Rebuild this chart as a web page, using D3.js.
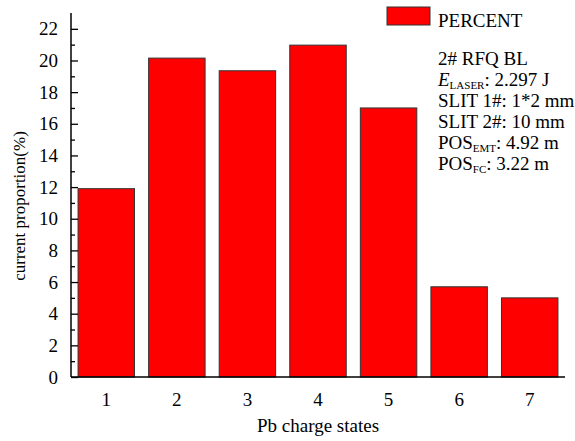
<!DOCTYPE html>
<html>
<head>
  <meta charset='utf-8'>
  <title>Pb charge states</title>
  <style>
    body { margin: 0; background: #fff; }
    svg text { font-family: 'Liberation Serif', 'Times New Roman', serif; fill: #000; }
  </style>
  <script src='https://cdn.jsdelivr.net/npm/d3@7/dist/d3.min.js'></script>
</head>
<body>
  <svg id='chart' width='575' height='441'></svg>
  <script>
    // data
    const chargeStates = [1, 2, 3, 4, 5, 6, 7];
    const percent = [11.9, 20.15, 19.35, 20.97, 17.0, 5.7, 5.0];
    const yTicks = [0, 2, 4, 6, 8, 10, 12, 14, 16, 18, 20, 22];
    const infoLines = [
        [['2# RFQ BL', '']],
        [['E', 'italic'], ['LASER', 'sub'], [': 2.297 J', '']],
        [['SLIT 1#: 1*2 mm', '']],
        [['SLIT 2#: 10 mm', '']],
        [['POS', ''], ['EMT', 'sub'], [': 4.92 m', '']],
        [['POS', ''], ['FC', 'sub'], [': 3.22 m', '']]
    ];

    const svg = d3.select('#chart');
    const plotLeft = 71, plotRight = 565, plotTop = 13, plotBottom = 377;
    const FONT = 19;

    const x = d3.scaleLinear().domain([0.5, 7.5]).range([plotLeft, plotRight]);
    const y = d3.scaleLinear().domain([0, 23]).range([plotBottom, plotTop]);
    const barW = (x(1) - x(0)) * 0.8;

    // bars
    svg.append('g').selectAll('rect')
        .data(chargeStates)
        .join('rect')
            .attr('x', (d) => x(d) - barW / 2)
            .attr('y', (d, i) => y(percent[i]))
            .attr('width', barW)
            .attr('height', (d, i) => y(0) - y(percent[i]))
            .attr('fill', '#ff0000')
            .attr('stroke', '#333')
            .attr('stroke-width', 1);

    // y axis, ticks pointing inwards
    const gY = svg.append('g').attr('transform', `translate(${plotLeft},0)`);
    gY.call(d3.axisRight(y).tickValues(yTicks).tickSize(7).tickFormat(''));
    gY.append('g').call(d3.axisRight(y).tickValues(d3.range(1, 23, 2)).tickSize(4).tickFormat(''));
    gY.selectAll('.domain').remove();
    gY.selectAll('line').attr('stroke', '#000').attr('stroke-width', 1.3);
    gY.append('line')
        .attr('y1', y(0)).attr('y2', y(23))
        .attr('stroke', '#000').attr('stroke-width', 1.5);
    svg.append('g').selectAll('text')
        .data(yTicks)
        .join('text')
            .attr('x', plotLeft - 13)
            .attr('y', (d) => y(d))
            .attr('dy', '0.35em')
            .attr('text-anchor', 'end')
            .attr('font-size', FONT)
            .text((d) => d);

    // x axis
    svg.append('line')
        .attr('x1', plotLeft).attr('x2', x(7.5))
        .attr('y1', y(0)).attr('y2', y(0))
        .attr('stroke', '#000').attr('stroke-width', 1.5);
    svg.append('g').selectAll('text')
        .data(chargeStates)
        .join('text')
            .attr('x', (d) => x(d))
            .attr('y', plotBottom + 29)
            .attr('text-anchor', 'middle')
            .attr('font-size', FONT)
            .text((d) => d);

    // axis titles
    svg.append('text')
        .attr('x', (plotLeft + plotRight) / 2)
        .attr('y', 432)
        .attr('text-anchor', 'middle')
        .attr('font-size', FONT)
        .text('Pb charge states');
    svg.append('text')
        .attr('transform', 'translate(25, 206) rotate(-90)')
        .attr('text-anchor', 'middle')
        .attr('font-size', 17)
        .text('current proportion(%)');

    // legend
    svg.append('rect')
        .attr('x', 387).attr('y', 7)
        .attr('width', 43).attr('height', 18)
        .attr('fill', '#ff0000')
        .attr('stroke', '#333');
    svg.append('text')
        .attr('x', 438).attr('y', 27)
        .attr('font-size', FONT)
        .text('PERCENT');

    // info block, subscripts drop a little then the next span comes back up
    const info = svg.append('g');
    infoLines.forEach((parts, i) => {
        const t = info.append('text')
            .attr('x', 438)
            .attr('y', 65 + i * 21)
            .attr('font-size', FONT);
        let lowered = false;
        parts.forEach(([s, kind]) => {
            const span = t.append('tspan').text(s);
            if (kind === 'italic') span.attr('font-style', 'italic');
            if (kind === 'sub') {
                span.attr('font-size', 11).attr('dy', 3);
                lowered = true;
            } else if (lowered) {
                span.attr('dy', -3);
                lowered = false;
            }
        });
    });
  </script>
</body>
</html>
